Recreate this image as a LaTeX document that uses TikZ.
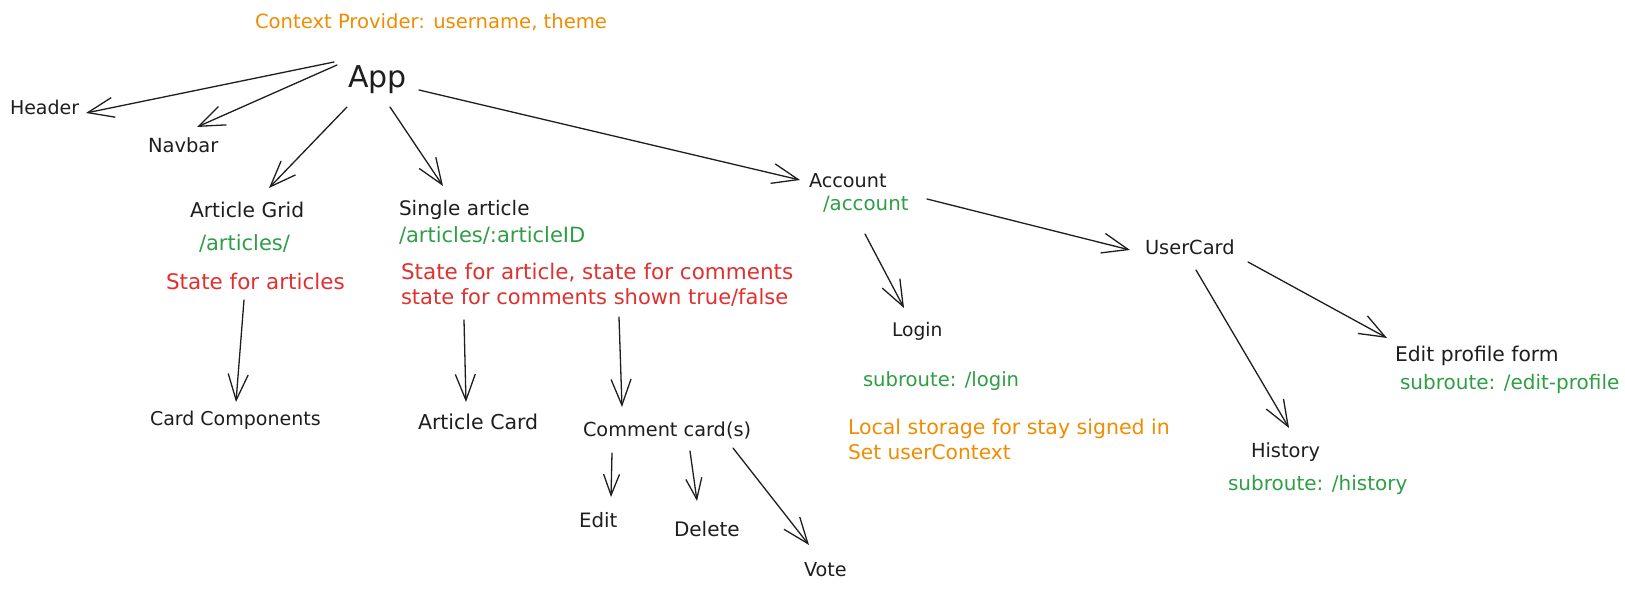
\documentclass[tikz,border=0pt]{standalone}
\usepackage{fontspec}
\setmainfont{DejaVu Sans}
\usetikzlibrary{arrows.meta}
\definecolor{ink}{HTML}{1E1E1E}
\definecolor{orng}{HTML}{F08C00}
\definecolor{grn}{HTML}{2F9E44}
\definecolor{rd}{HTML}{E03131}
\newcommand{\fsz}[1]{\fontsize{#1}{#1}\selectfont}
\begin{document}
\begin{tikzpicture}[x=1pt,y=-1pt,
  lbl/.style={anchor=base west, inner sep=0pt, outer sep=0pt},
  blk/.style={lbl, text=ink},
  grt/.style={lbl, text=grn},
  rdt/.style={lbl, text=rd},
  ort/.style={lbl, text=orng},
  arr/.style={draw=ink, line width=1.3pt, line cap=round,
    -{Straight Barb[length=26pt,width=20pt,line width=1.3pt]}},
  sarr/.style={draw=ink, line width=1.3pt, line cap=round,
    -{Straight Barb[length=21pt,width=16pt,line width=1.3pt]}}]
\fill[white] (0,0) rectangle (1625,591);
\useasboundingbox (0,0) rectangle (1625,591);

% texts
\node[ort, font=\fsz{19.6}] (ctx) at (255,29) {Context Provider: username, theme};
\node[blk, font=\fsz{30}] (app) at (348,88) {App};
\node[blk, font=\fsz{19}] (header) at (10,115) {Header};
\node[blk, font=\fsz{19.5}] (navbar) at (148,153) {Navbar};
\node[blk, font=\fsz{20.3}] (grid) at (190,217) {Article Grid};
\node[grt, font=\fsz{21}] (groute) at (199,250) {/articles/};
\node[rdt, font=\fsz{21.5}] (gstate) at (166,289) {State for articles};
\node[blk, font=\fsz{19}] (cardcomp) at (150,425) {Card Components};
\node[blk, font=\fsz{20}] (single) at (399,215) {Single article};
\node[grt, font=\fsz{21}] (sroute) at (399,242) {/articles/:articleID};
\node[rdt, font=\fsz{21.5}] (sstate1) at (401,279) {State for article, state for comments};
\node[rdt, font=\fsz{21}] (sstate2) at (401,304) {state for comments shown true/false};
\node[blk, font=\fsz{20.5}] (artcard) at (418,429) {Article Card};
\node[blk, font=\fsz{19.3}] (comment) at (583,436) {Comment card(s)};
\node[blk, font=\fsz{19.8}] (edit) at (579,527) {Edit};
\node[blk, font=\fsz{20}] (delete) at (674,536) {Delete};
\node[blk, font=\fsz{19.2}] (vote) at (804,576) {Vote};
\node[blk, font=\fsz{19.2}] (account) at (809,187) {Account};
\node[grt, font=\fsz{19.8}] (aroute) at (823,210) {/account};
\node[blk, font=\fsz{18.7}] (login) at (892,336) {Login};
\node[grt, font=\fsz{19.6}] (lroute) at (863,386) {subroute: /login};
\node[ort, font=\fsz{20.5}] (local1) at (848,434) {Local storage for stay signed in};
\node[ort, font=\fsz{20.2}] (local2) at (848,459) {Set userContext};
\node[blk, font=\fsz{19.4}] (usercard) at (1145,254) {UserCard};
\node[blk, font=\fsz{20.3}] (editprof) at (1395,361) {Edit profile form};
\node[grt, font=\fsz{20}] (eproute) at (1400,389) {subroute: /edit-profile};
\node[blk, font=\fsz{19.4}] (history) at (1251,457) {History};
\node[grt, font=\fsz{20}] (hroute) at (1228,490) {subroute: /history};

% arrow end points
\coordinate (a1s) at (334,62);   \coordinate (a1e) at (86,113);
\coordinate (a2s) at (337,65);   \coordinate (a2e) at (197,127);
\coordinate (a3s) at (347,107);  \coordinate (a3e) at (269,188);
\coordinate (a4s) at (390,107);  \coordinate (a4e) at (443,186);
\coordinate (a5s) at (419,90);   \coordinate (a5e) at (800,180);
\coordinate (a6s) at (244,300);  \coordinate (a6e) at (236,402);
\coordinate (a7s) at (464,320);  \coordinate (a7e) at (466,402);
\coordinate (a8s) at (619,317);  \coordinate (a8e) at (622,407);
\coordinate (a9s) at (612,453);  \coordinate (a9e) at (611,497);
\coordinate (a10s) at (690,451); \coordinate (a10e) at (697,501);
\coordinate (a11s) at (733,448); \coordinate (a11e) at (809,545);
\coordinate (a12s) at (865,234); \coordinate (a12e) at (904,308);
\coordinate (a13s) at (927,199); \coordinate (a13e) at (1130,250);
\coordinate (a14s) at (1248,262);\coordinate (a14e) at (1387,338);
\coordinate (a15s) at (1196,270);\coordinate (a15e) at (1289,428);

% connectors
\draw[arr] (a1s) -- (a1e);
\draw[arr] (a2s) -- (a2e);
\draw[arr] (a3s) -- (a3e);
\draw[arr] (a4s) -- (a4e);
\draw[arr] (a5s) -- (a5e);
\draw[arr] (a6s) -- (a6e);
\draw[arr] (a7s) -- (a7e);
\draw[arr] (a8s) -- (a8e);
\draw[sarr] (a9s) -- (a9e);
\draw[sarr] (a10s) -- (a10e);
\draw[arr] (a11s) -- (a11e);
\draw[arr] (a12s) -- (a12e);
\draw[arr] (a13s) -- (a13e);
\draw[arr] (a14s) -- (a14e);
\draw[arr] (a15s) -- (a15e);
\end{tikzpicture}
\end{document}
